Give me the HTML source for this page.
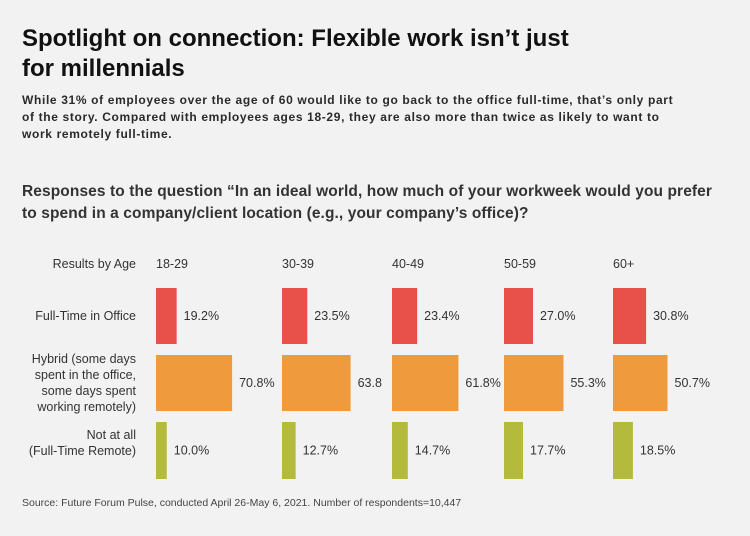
<!DOCTYPE html>
<html><head><meta charset="utf-8"><style>
body{margin:0;width:750px;height:536px;background:#f2f2f2;font-family:"Liberation Sans",sans-serif;color:#1a1a1a;overflow:hidden;position:relative}
.t{position:absolute;white-space:nowrap}
#title{left:22px;top:24px;font-size:24px;font-weight:bold;line-height:30px;color:#111}
#sub{left:22px;top:92px;font-size:12px;line-height:17px;color:#2a2a2a;letter-spacing:0.65px;font-weight:bold}
#q{left:22px;top:181px;font-size:15.5px;font-weight:bold;line-height:22px;color:#333;letter-spacing:0.1px}
#src{left:22px;top:497px;font-size:10.5px;color:#444}
.rl{position:absolute;right:614px;text-align:right;font-size:12.5px;line-height:16px;color:#333}
svg text{font-family:"Liberation Sans",sans-serif;font-size:12.5px;fill:#333}
</style></head><body>
<div class="t" id="title">Spotlight on connection: Flexible work isn’t just<br>for millennials</div>
<div class="t" id="sub">While 31% of employees over the age of 60 would like to go back to the office full-time, that’s only part<br>of the story. Compared with employees ages 18-29, they are also more than twice as likely to want to<br>work remotely full-time.</div>
<div class="t" id="q">Responses to the question “In an ideal world, how much of your workweek would you prefer<br>to spend in a company/client location (e.g., your company’s office)?</div>
<div class="rl" style="top:256px">Results by Age</div>
<div class="rl" style="top:308px">Full-Time in Office</div>
<div class="rl" style="top:351px">Hybrid (some days<br>spent in the office,<br>some days spent<br>working remotely)</div>
<div class="rl" style="top:427px">Not at all<br>(Full-Time Remote)</div>
<svg id="chart" width="750" height="536" style="position:absolute;left:0;top:0"></svg>
<div class="t" id="src">Source: Future Forum Pulse, conducted April 26-May 6, 2021. Number of respondents=10,447</div>
<script>
const ages=["18-29","30-39","40-49","50-59","60+"];
const office=[19.2,23.5,23.4,27.0,30.8];
const hybrid=[70.8,63.8,61.8,55.3,50.7];
const remote=[10.0,12.7,14.7,17.7,18.5];
const hybridLabels=["70.8%","63.8","61.8%","55.3%","50.7%"];
const groupX=[156,282,392,504,613];
const scale=1.075;
const rows=[{vals:office,y:288,h:56,c:"#e8504a",n:"office"},{vals:hybrid,y:355,h:56,c:"#f09a3e",n:"hybrid"},{vals:remote,y:422,h:57,c:"#b4ba3c",n:"remote"}];
const svg=document.getElementById('chart');const NS="http://www.w3.org/2000/svg";
ages.forEach((a,i)=>{
 const t=document.createElementNS(NS,'text');t.setAttribute('x',groupX[i]);t.setAttribute('y',268);t.textContent=a;
 
 
 svg.appendChild(t);
 rows.forEach(r=>{
  const w=r.vals[i]*scale;
  const b=document.createElementNS(NS,'rect');b.setAttribute('x',groupX[i]);b.setAttribute('y',r.y);b.setAttribute('width',w);b.setAttribute('height',r.h);b.setAttribute('fill',r.c);
  
  
  svg.appendChild(b);
  const l=document.createElementNS(NS,'text');l.setAttribute('x',groupX[i]+w+7);l.setAttribute('y',r.y+r.h/2+4);
  l.textContent=r.n==="hybrid"?hybridLabels[i]:r.vals[i].toFixed(1)+"%";
  
  
  svg.appendChild(l);
 });
});
</script>
</body></html>
